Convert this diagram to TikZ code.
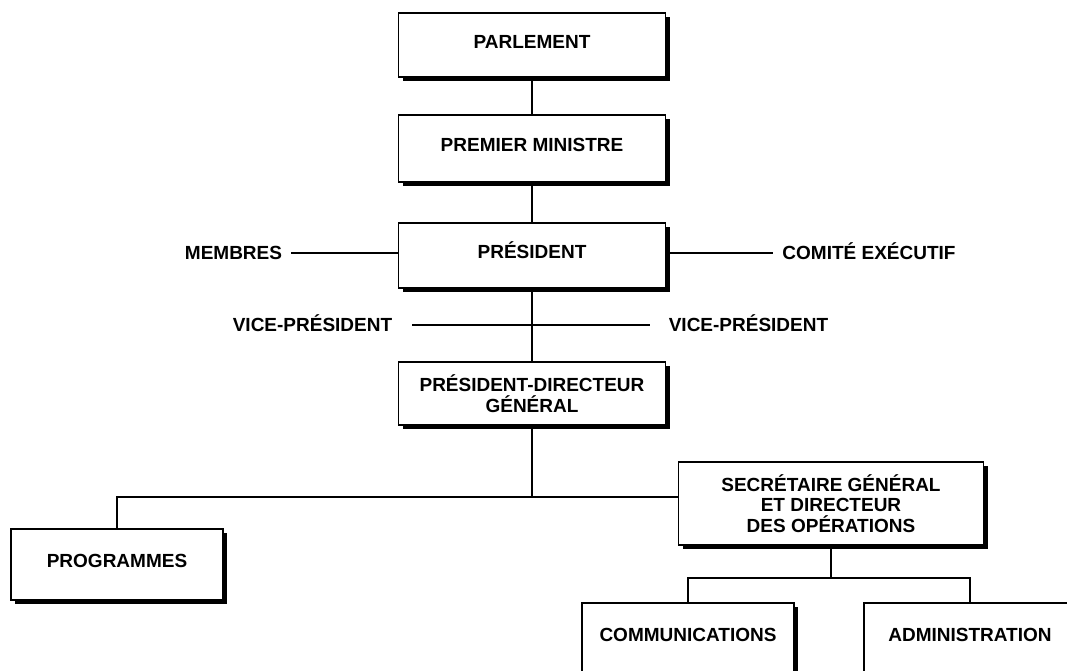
\documentclass[tikz,border=0pt]{standalone}
\usepackage{fontspec}
\setmainfont{Liberation Sans}
\usetikzlibrary{shadows}

\tikzset{
    orgbox/.style={draw, line width=1.8pt, fill=white, inner sep=0pt,
        drop shadow={shadow xshift=4pt, shadow yshift=-4pt, opacity=1, fill=black},
        font=\fontsize{19}{20.5}\selectfont\bfseries, align=center,
        minimum width=267pt},
    oneline/.style={text height=13.6pt, text depth=7pt},
    sidelabel/.style={inner sep=9pt, text height=13.6pt, text depth=0pt,
        font=\fontsize{19}{20.5}\selectfont\bfseries},
    link/.style={line width=1.5pt}
}

\begin{document}
\begin{tikzpicture}[x=1pt, y=-1pt]
    \useasboundingbox (0,0) rectangle (1067,671);
    \clip (0,0) rectangle (1067,671);

    % Draw the boxes
    \node[orgbox, oneline, minimum height=64pt] (parl) at (532,45) {PARLEMENT};
    \node[orgbox, oneline, minimum height=67pt] (pm) at (532,148.5) {PREMIER MINISTRE};
    \node[orgbox, oneline, minimum height=65pt] (pres) at (532,255.5) {PRÉSIDENT};
    \node[orgbox, minimum height=63pt] (pdg) at (532,393.5) {PRÉSIDENT-DIRECTEUR\\GÉNÉRAL};
    \node[orgbox, minimum width=305pt, minimum height=83pt] (sg) at (831,503.5)
        {SECRÉTAIRE GÉNÉRAL\\ET DIRECTEUR\\DES OPÉRATIONS};
    \node[orgbox, oneline, minimum width=212pt, minimum height=71pt] (prog) at (117,564.5) {PROGRAMMES};
    \node[orgbox, oneline, minimum width=212pt, minimum height=71pt] (comm) at (688,638.5) {COMMUNICATIONS};
    \node[orgbox, oneline, minimum width=212pt, minimum height=71pt] (admin) at (970,638.5) {ADMINISTRATION};

    % Side labels
    \node[sidelabel] (membres) at (233.5,253) {MEMBRES};
    \node[sidelabel] (comite) at (869,253) {COMITÉ EXÉCUTIF};
    \node[sidelabel] (vpl) at (312.5,325) {VICE-PRÉSIDENT};
    \node[sidelabel] (vpr) at (748.5,325) {VICE-PRÉSIDENT};

    % Junctions
    \coordinate (j) at (532,497);
    \coordinate (k) at (831,578);

    % Draw the connectors
    \foreach \a/\b in {parl/pm, pm/pres, pres/pdg}
        \draw[link] (\a.south) -- (\b.north);
    \draw[link] (membres.east) -- (membres.east -| pres.west);
    \draw[link] (comite.west -| pres.east) -- (comite.west);
    \draw[link] ([xshift=11pt]vpl.east) -- ([xshift=-10pt]vpr.west);
    \draw[link] (pdg.south) -- (j);
    \draw[link] (prog.north) |- (j) -- (j -| sg.west);
    \draw[link] (sg.south) -- (k);
    \draw[link] (comm.north) |- (k) -| (admin.north);

\end{tikzpicture}
\end{document}
